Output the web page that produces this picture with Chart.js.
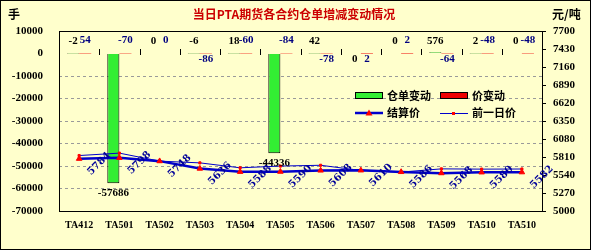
<!DOCTYPE html>
<html>
<head>
<meta charset="utf-8">
<script src="https://cdn.jsdelivr.net/npm/chart.js@4.4.0/dist/chart.umd.min.js"></script>
<style>
  html, body { margin: 0; padding: 0; background: #ffffcc; }
  #wrap { width: 591px; height: 250px; }
</style>
</head>
<body>
<div id="wrap"><canvas id="chart" width="591" height="250"></canvas></div>
<script>
const contracts = ["TA412", "TA501", "TA502", "TA503", "TA504", "TA505", "TA506", "TA507", "TA508", "TA509", "TA510", "TA510"];
const receiptChange = [-2, -57686, 0, -6, 18, -44336, 42, 0, 0, 576, 2, 0];
const priceChange = [54, -70, 0, -86, -60, -84, -78, 2, 2, -64, -48, -48];
const settlePrice = [5784, 5798, 5748, 5636, 5588, 5590, 5608, 5610, 5586, 5568, 5580, 5582];
const prevPrice = [5832, 5868, 5748, 5722, 5648, 5674, 5686, 5608, 5584, 5632, 5628, 5630];
const leftTicks = [10000, 0, -10000, -20000, -30000, -40000, -50000, -60000, -70000];
const rightTicks = [7700, 7430, 7160, 6890, 6620, 6350, 6080, 5810, 5540, 5270, 5000];

// which labels sit under the zero line instead of above it
const receiptLow = [7];
const priceLow = [3, 6, 7, 9];

const numFont = '"Liberation Serif", "DejaVu Serif", serif';
const cjkFont = '"Noto Sans CJK SC", sans-serif';

const decor = {
  id: "decor",
  beforeDraw(chart) {
    const ctx = chart.ctx;
    ctx.save();
    ctx.fillStyle = "#ffffcc";
    ctx.fillRect(0, 0, chart.width, chart.height);
    ctx.restore();
  },
  afterDraw(chart) {
    const ctx = chart.ctx;
    const a = chart.chartArea;
    const y0 = chart.scales.y.getPixelForValue(0);
    ctx.save();

    // plot frame and outer frame
    ctx.strokeStyle = "#000";
    ctx.lineWidth = 1;
    ctx.strokeRect(Math.round(a.left) + 0.5, Math.round(a.top) + 0.5,
      Math.round(a.right - a.left), Math.round(a.bottom - a.top));
    ctx.strokeRect(0.5, 0.5, chart.width - 1, chart.height - 1);

    // category ticks on the zero line
    const step = (a.right - a.left) / contracts.length;
    ctx.beginPath();
    for (let i = 1; i < contracts.length; i++) {
      const x = Math.round(a.left + i * step) + 0.5;
      ctx.moveTo(x, Math.round(y0) - 5);
      ctx.lineTo(x, Math.round(y0) + 1);
    }
    ctx.stroke();

    // title and units
    ctx.textBaseline = "middle";
    ctx.textAlign = "center";
    ctx.font = "bold 12px " + cjkFont;
    ctx.fillStyle = "#cc0000";
    ctx.fillText("当日PTA期货各合约仓单增减变动情况", 294, 14);
    ctx.fillStyle = "#000";
    ctx.textAlign = "left";
    ctx.fillText("手", 8, 14);
    ctx.fillText("元/吨", 552, 14);

    // bar value labels
    ctx.textAlign = "center";
    ctx.font = "bold 11px " + numFont;
    chart.getDatasetMeta(0).data.forEach((bar, i) => {
      let y;
      if (bar.y - y0 > 20) y = bar.y + 10;
      else if (receiptLow.includes(i)) y = y0 + 6;
      else y = y0 - 12;
      ctx.fillStyle = "#000";
      ctx.fillText(String(receiptChange[i]), bar.x, y);
    });
    chart.getDatasetMeta(1).data.forEach((bar, i) => {
      const y = priceLow.includes(i) ? y0 + 6 : y0 - 13;
      ctx.fillStyle = "#000080";
      ctx.fillText(String(priceChange[i]), bar.x, y);
    });

    // settlement price labels, rotated
    ctx.font = 'bold 10px "DejaVu Serif", serif';
    ctx.fillStyle = "#000099";
    chart.getDatasetMeta(2).data.forEach((pt, i) => {
      ctx.save();
      ctx.translate(pt.x + 20, pt.y + 5);
      ctx.rotate(-Math.PI / 4);
      ctx.fillText(String(settlePrice[i]), 0, 0);
      ctx.restore();
    });

    // legend
    const ds = chart.data.datasets;
    ctx.font = "bold 11px " + cjkFont;
    ctx.textAlign = "left";
    ctx.lineWidth = 1;
    ctx.strokeStyle = "#000";
    ctx.fillStyle = ds[0].backgroundColor;
    ctx.fillRect(355, 92, 28, 7);
    ctx.strokeRect(355.5, 92.5, 27, 6);
    ctx.fillStyle = ds[1].backgroundColor;
    ctx.fillRect(440, 92, 28, 7);
    ctx.strokeRect(440.5, 92.5, 27, 6);
    ctx.fillStyle = "#000";
    ctx.fillText(ds[0].label, 387, 96);
    ctx.fillText(ds[1].label, 472, 96);

    ctx.strokeStyle = ds[2].borderColor;
    ctx.lineWidth = ds[2].borderWidth;
    ctx.beginPath();
    ctx.moveTo(355, 113);
    ctx.lineTo(383, 113);
    ctx.stroke();
    ctx.fillStyle = "#ff0000";
    ctx.beginPath();
    ctx.moveTo(369, 109.5);
    ctx.lineTo(372.5, 115.5);
    ctx.lineTo(365.5, 115.5);
    ctx.closePath();
    ctx.fill();

    ctx.strokeStyle = ds[3].borderColor;
    ctx.lineWidth = ds[3].borderWidth;
    ctx.beginPath();
    ctx.moveTo(440, 113.5);
    ctx.lineTo(468, 113.5);
    ctx.stroke();
    ctx.fillStyle = "#ff0000";
    ctx.fillRect(452, 112, 3, 3);

    ctx.fillStyle = "#000";
    ctx.fillText(ds[2].label, 387, 113);
    ctx.fillText(ds[3].label, 472, 113);

    ctx.restore();
  }
};

const tickFont = { family: numFont, size: 11, weight: "bold" };

new Chart(document.getElementById("chart"), {
  data: {
    labels: contracts,
    datasets: [
      {
        type: "bar",
        label: "仓单变动",
        data: receiptChange,
        backgroundColor: "#33ee33",
        borderColor: "#000",
        borderWidth: 1,
        categoryPercentage: 0.6,
        barPercentage: 1.0,
        yAxisID: "y",
        order: 2
      },
      {
        type: "bar",
        label: "价变动",
        data: priceChange,
        backgroundColor: "#ee0000",
        borderWidth: 0,
        categoryPercentage: 0.6,
        barPercentage: 1.0,
        yAxisID: "y",
        order: 2
      },
      {
        type: "line",
        label: "结算价",
        data: settlePrice,
        borderColor: "#0000cc",
        borderWidth: 2.5,
        pointStyle: "triangle",
        pointRadius: 3.2,
        pointBackgroundColor: "#ff0000",
        pointBorderColor: "#ff0000",
        pointBorderWidth: 1,
        tension: 0,
        yAxisID: "y1",
        order: 0
      },
      {
        type: "line",
        label: "前一日价",
        data: prevPrice,
        borderColor: "#0000cc",
        borderWidth: 1,
        pointStyle: "rect",
        pointRadius: 1.5,
        pointBackgroundColor: "#ff0000",
        pointBorderColor: "#ff0000",
        tension: 0,
        yAxisID: "y1",
        order: 1
      }
    ]
  },
  options: {
    responsive: false,
    animation: false,
    layout: { padding: { top: 31, left: 0, right: 0, bottom: 0 } },
    plugins: {
      legend: { display: false },
      tooltip: { enabled: false }
    },
    scales: {
      x: {
        grid: { display: false, drawTicks: false },
        border: { display: false },
        ticks: {
          color: "#000",
          font: { family: numFont, size: 10, weight: "bold" },
          padding: 8,
          maxRotation: 0,
          autoSkip: false
        },
        afterFit(s) { s.height = 39; }
      },
      y: {
        position: "left",
        min: -70000,
        max: 10000,
        afterBuildTicks(s) { s.ticks = leftTicks.map(v => ({ value: v })); },
        grid: {
          drawTicks: false,
          color: c => (c.tick && [0, 10000, -70000].includes(c.tick.value)) ? "rgba(0,0,0,0)" : "#9a9a9a"
        },
        border: { display: false, dash: [3, 3] },
        ticks: {
          color: "#000",
          font: tickFont,
          padding: 16,
          callback: v => String(v)
        },
        afterFit(s) { s.width = 59; }
      },
      y1: {
        position: "right",
        min: 5000,
        max: 7700,
        afterBuildTicks(s) { s.ticks = rightTicks.map(v => ({ value: v })); },
        grid: { drawOnChartArea: false, drawTicks: true, tickLength: 4, color: "#000" },
        border: { display: false },
        ticks: {
          color: "#000",
          font: tickFont,
          padding: 7,
          callback: v => String(v)
        },
        afterFit(s) { s.width = 49; }
      }
    }
  },
  plugins: [decor]
});
</script>
</body>
</html>
